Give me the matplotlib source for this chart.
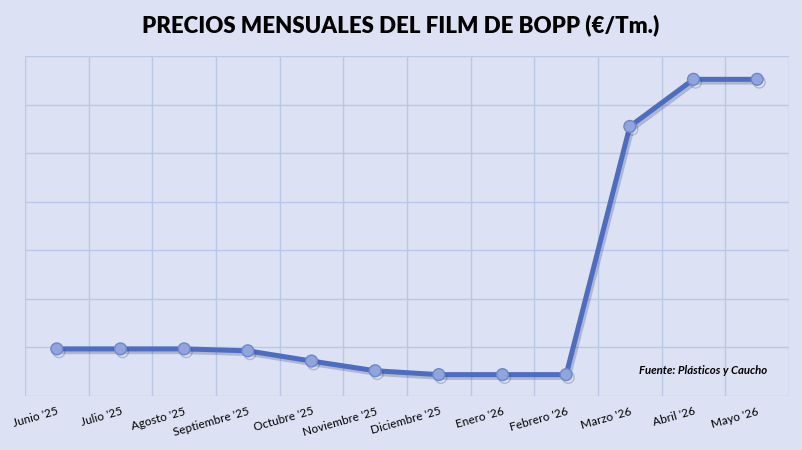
import matplotlib
matplotlib.use("Agg")
import matplotlib.pyplot as plt
import matplotlib.patheffects as pe

months = ["Junio '25", "Julio '25", "Agosto '25", "Septiembre '25", "Octubre '25",
          "Noviembre '25", "Diciembre '25", "Enero '26", "Febrero '26", "Marzo '26",
          "Abril '26", "Mayo '26"]
prices = [1497, 1497, 1497, 1493, 1472, 1452, 1444, 1444, 1444, 1955, 2052, 2052]

bg = "#DCE2F3"
fig = plt.figure(figsize=(8.02, 4.5), dpi=100, facecolor=bg)
ax = fig.add_axes([25/802, 54/450, 764/802, 340/450], facecolor=bg)

x = list(range(len(months)))
ax.plot(x, prices, color="#4D6CC4", lw=3.6, marker="o", ms=8.5,
        mfc="#8FA5DC", mec="#6E86CE", mew=1.0, solid_capstyle="round",
        path_effects=[pe.SimpleLineShadow(offset=(1.5, -2), shadow_color="#404860", alpha=0.28),
                      pe.Normal()], zorder=3)

ax.set_xlim(-0.5, len(months) - 0.5)
ax.set_ylim(1400, 2100)
ax.set_yticks(range(1400, 2101, 100))
ax.set_xticks([i + 0.5 for i in range(-1, len(months))], minor=False)
ax.set_xticklabels([])
ax.set_xticks(x, minor=True)
ax.set_xticklabels(months, minor=True, rotation=16, ha="right", va="top",
                   rotation_mode="anchor", fontsize=8.5, family=["Lato", "DejaVu Sans"])
ax.tick_params(axis="x", which="both", length=0, pad=7)
ax.tick_params(axis="y", length=0, labelleft=False)
ax.grid(True, which="major", color="#BAC7E7", lw=1.0)
ax.set_axisbelow(True)
for s in ax.spines.values():
    s.set_visible(False)

fig.text(0.5, 1 - 25/450, "PRECIOS MENSUALES DEL FILM DE BOPP (€/Tm.)", ha="center", va="center",
         fontsize=16, fontweight="heavy", family=["Lato", "DejaVu Sans"], color="black")
ax.text(0.971, 0.076, "Fuente: Plásticos y Caucho", transform=ax.transAxes, ha="right", va="center",
        fontsize=8.2, fontweight="bold", fontstyle="italic", family=["Lato", "DejaVu Sans"], color="black")

fig.savefig("out.png", dpi=100, facecolor=bg)
